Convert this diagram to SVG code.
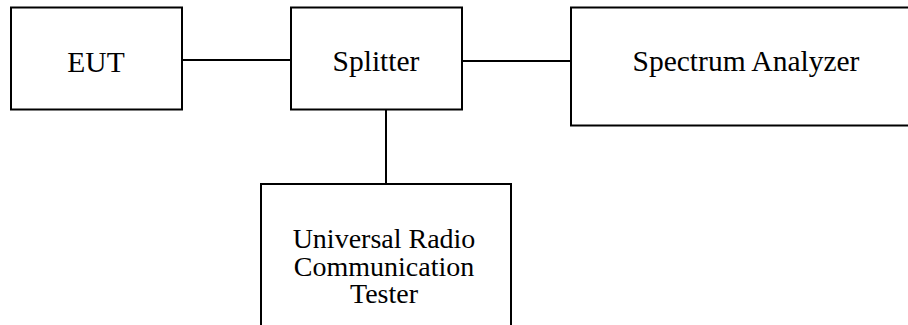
<svg xmlns="http://www.w3.org/2000/svg" width="908" height="325" viewBox="0 0 908 325">
<style>
.box{fill:#fff;stroke:#000;stroke-width:2}
.ln{stroke:#000;stroke-width:2;fill:none}
text{font-family:"Liberation Serif","Times New Roman",serif;font-size:28px;fill:#000;text-anchor:middle}
.top{font-size:29.5px}
</style>
<rect width="908" height="325" fill="#fff"/>
<g id="connectors">
<line class="ln" x1="182" y1="60" x2="291" y2="60"/>
<line class="ln" x1="462" y1="61" x2="571" y2="61"/>
<line class="ln" x1="386" y1="109" x2="386" y2="184"/>
</g>
<g id="eut">
<rect class="box" x="11" y="7.5" width="171" height="102"/>
<text class="top" x="96" y="71.5">EUT</text>
</g>
<g id="splitter">
<rect class="box" x="291" y="7.5" width="171" height="102"/>
<text class="top" x="376" y="71">Splitter</text>
</g>
<g id="spectrum">
<rect class="box" x="571" y="7.5" width="345" height="118"/>
<text class="top" x="746" y="71">Spectrum Analyzer</text>
</g>
<g id="tester">
<rect class="box" x="261" y="184" width="250" height="160"/>
<text x="384" y="248">Universal Radio</text>
<text x="384" y="275.5">Communication</text>
<text x="384" y="302.5">Tester</text>
</g>
</svg>
